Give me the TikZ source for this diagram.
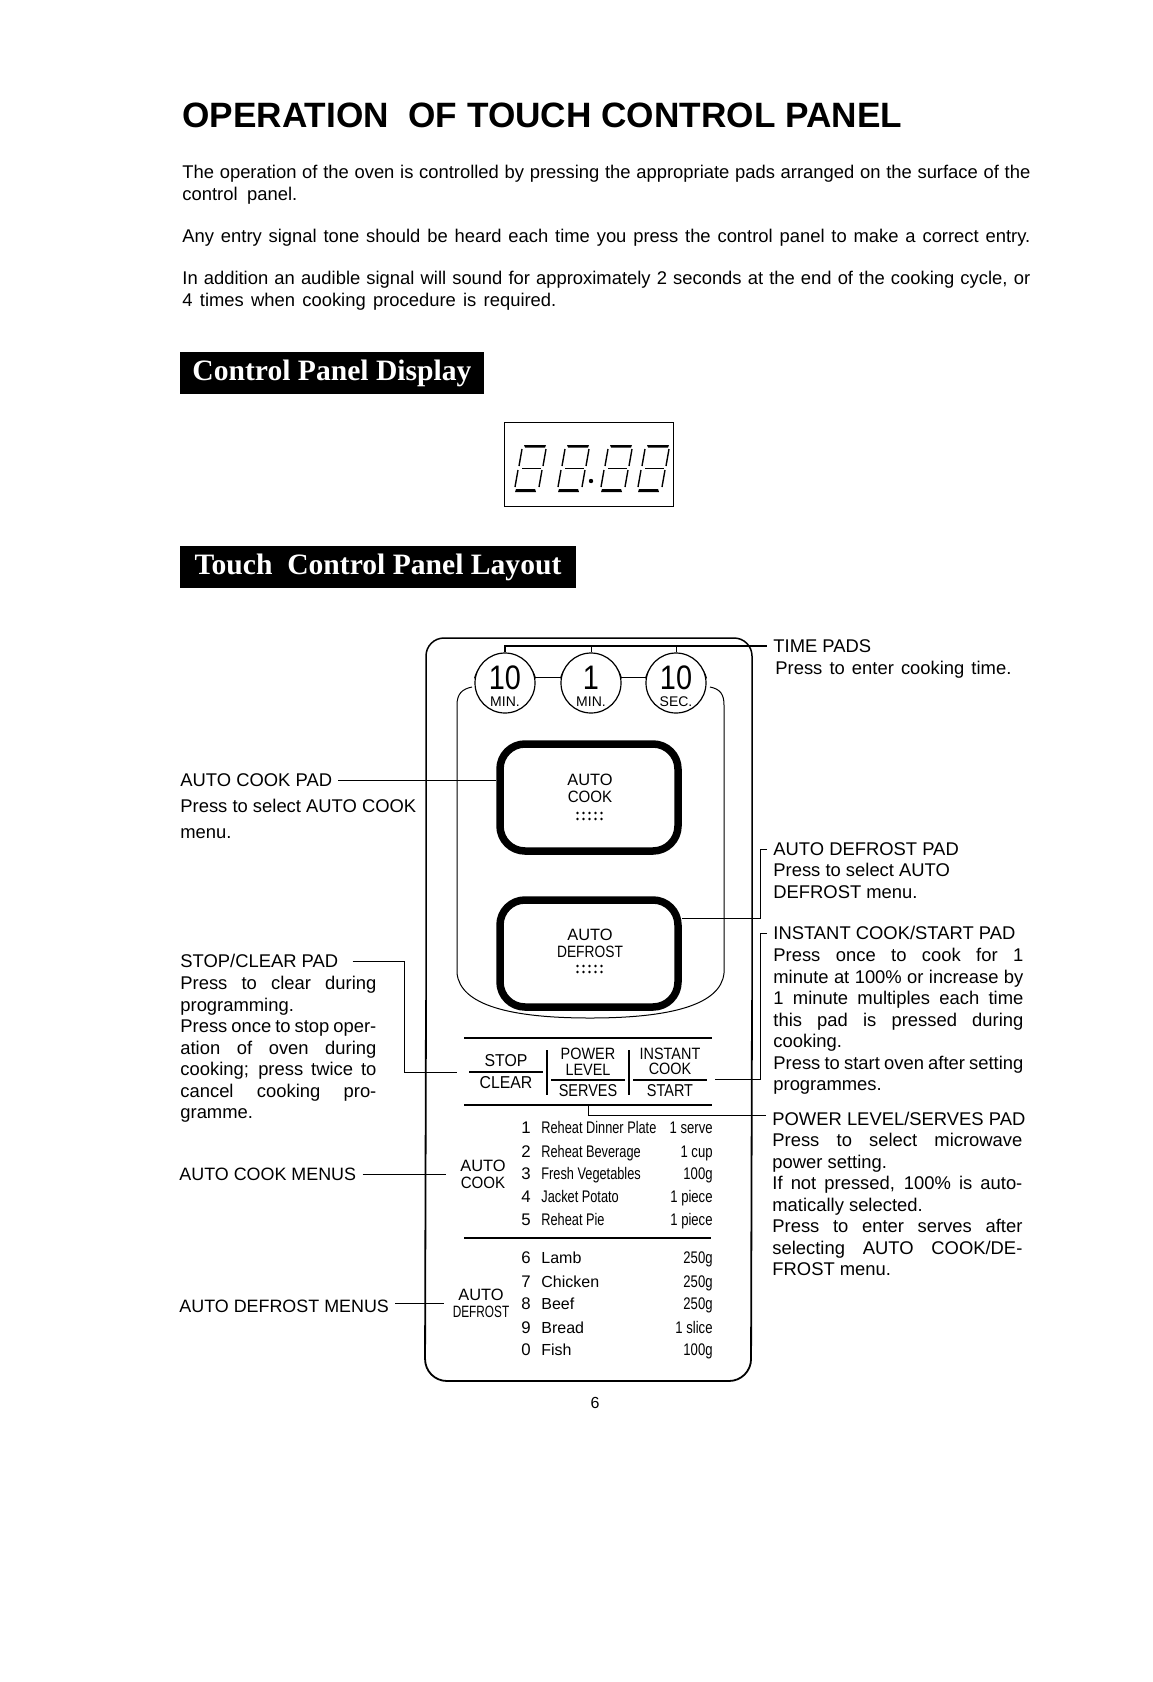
\documentclass[tikz,border=0pt]{standalone}
\usepackage{fontspec}
\setmainfont{Liberation Sans}
\newfontfamily\barfont{Liberation Serif}
\newcommand{\nw}[1]{\scalebox{.78}[1]{#1}}
\newcommand{\dw}[1]{\scalebox{.76}[1]{#1}}
\newcommand{\pw}[1]{\scalebox{.84}[1]{#1}}
\newcommand{\sw}[1]{\scalebox{.92}[1]{#1}}
\newcommand{\jl}[2]{\makebox[#1pt][s]{#2}}
\tikzset{
  para/.style={anchor=north west,inner sep=0pt,align=left,font=\fontsize{9.2}{10.75}\selectfont},
  headlbl/.style={inner xsep=3pt,inner ysep=0pt,font=\fontsize{9.2}{10.75}\selectfont},
  blackbar/.style={fill=black,text=white,inner sep=0pt,font=\barfont\bfseries\fontsize{14.8}{15}\selectfont},
  lead/.style={line width=.5pt},
  rule/.style={line width=1pt},
  roundpad/.style={draw,line width=3.75pt,rounded corners=12.5pt,minimum width=89pt,minimum height=53.5pt,inner sep=0pt},
  timepad/.style={circle,draw,fill=white,line width=.6pt,minimum size=30pt,inner sep=0pt},
  padtxt/.style={inner sep=0pt,align=center,font=\fontsize{8.2}{8.6}\selectfont},
  keytxt/.style={inner xsep=0pt,inner ysep=2.25pt,align=center,minimum width=36.5pt,font=\fontsize{8.2}{7.6}\selectfont},
  menutxt/.style={inner sep=0pt,font=\fontsize{8.4}{9}\selectfont},
}
\begin{document}
\begin{tikzpicture}[x=.5pt,y=-.5pt]
\useasboundingbox (0,0) rectangle (1152,1682);
\node[inner sep=0pt,anchor=base west,font=\bfseries\fontsize{17.6}{20}\selectfont] (title) at (182,127) {OPERATION\ \ OF TOUCH CONTROL PANEL};
\node[para] (intro) at (182,165) {\jl{424}{The operation of the oven is controlled by pressing the appropriate pads arranged on the surface of the}\\\jl{57.5}{control panel.}};
\node[para] (tone) at (182,229) {\jl{424}{Any entry signal tone should be heard each time you press the control panel to make a correct entry.}};
\node[para] (signal) at (182,271) {\jl{424}{In addition an audible signal will sound for approximately 2 seconds at the end of the cooking cycle, or}\\\jl{187}{4 times when cooking procedure is required.}};
\node[blackbar,minimum width=152pt,minimum height=21pt] (displaybar) at (332,373) {Control Panel Display};
\node[blackbar,minimum width=198pt,minimum height=21pt] (layoutbar) at (378,567) {Touch\ \ Control Panel Layout};
\node[draw,line width=.5pt,minimum width=84.5pt,minimum height=42pt,inner sep=0pt] (display) at (589,464) {};
\foreach \dx in {515,558,601,638}{
  \begin{scope}[shift={(\dx,445)}]
    \fill (9,0) -- (31,0) -- (30,2.5) -- (10,2.5) -- cycle;
    \fill (1,44) -- (20,44) -- (21,47) -- (0,47) -- cycle;
    \draw[line width=.5pt] (7,23) -- (26,23);
    \draw[line width=.7pt] (7,4) -- (4,21) (31,4) -- (28,21) (3,25) -- (0,42) (27,25) -- (24,42);
  \end{scope}
}
\fill (591,481) circle (2.2);
\draw[line width=.75pt,rounded corners=9pt] (426,1000) -- (426,638) -- (752,638) -- (752,1000);
\draw[line width=.9pt,rounded corners=11pt] (752,1000) -- (751,1381) -- (425,1381) -- (426,1000);
\draw[line width=.5pt] (472,687) .. controls (462,689) and (457,694) .. (457,705) -- (457,973)
  .. controls (460,1005) and (510,1018) .. (590,1018) .. controls (670,1018) and (721,1005) .. (724,973)
  -- (724,705) .. controls (724,694) and (720,689) .. (710,687);
\foreach \nm/\cx/\big/\unit in {tenmin/505/10/MIN.,onemin/591/1/MIN.,tensec/676/10/SEC.}{
  \fill[white] (\cx,686) circle (32);
  \draw[line width=.6pt] (\cx,686.5) ++(195:31.5) arc (195:345:31.5);
  \node[timepad] (\nm) at (\cx,683) {};
  \node[inner sep=0pt,font=\fontsize{17}{18}\selectfont] (\nm big) at (\cx,678) {\scalebox{.85}[1]{\big}};
  \node[inner sep=0pt,font=\fontsize{7}{8}\selectfont] (\nm unit) at (\cx,702) {\unit};
}
\draw[line width=.5pt] (tenmin.10) -- (onemin.170) (onemin.10) -- (tensec.170);
\node[roundpad] (autocook) at (589,797.5) {};
\node[roundpad] (autodef) at (589,953.5) {};
\node[padtxt] (cooktxt) at (590,788) {AUTO\\\sw{COOK}};
\node[padtxt] (deftxt) at (590,943) {AUTO\\\pw{DEFROST}};
\foreach \cy in {813,966}{
  \foreach \ci in {0,...,4}{
    \fill (577.5+6*\ci,\cy) circle (1.4) (577.5+6*\ci,\cy+6) circle (1.4);
  }
}
\node[headlbl,anchor=west] (timelbl) at (767,646) {TIME PADS};
\node[para] at (775,661) {\jl{118}{Press to enter cooking time.}};
\node[headlbl,anchor=west] (deflbl) at (767,849) {AUTO DEFROST PAD};
\node[para] at (773,863) {Press to select AUTO\\DEFROST menu.};
\node[headlbl,anchor=west] (instlbl) at (767,933) {INSTANT COOK/START PAD};
\node[para] at (773,948) {\jl{125}{Press once to cook for 1}\\\jl{125}{minute at 100\% or increase by}\\\jl{125}{1 minute multiples each time}\\\jl{125}{this pad is pressed during}\\cooking.\\\jl{125}{Press to start oven after setting}\\programmes.};
\node[headlbl,anchor=west] (powerlbl) at (766,1119) {POWER LEVEL/SERVES PAD};
\node[para] at (772,1133) {\jl{125}{Press to select microwave}\\power setting.\\\jl{125}{If not pressed, 100\% is auto-}\\matically selected.\\\jl{125}{Press to enter serves after}\\\jl{125}{selecting AUTO COOK/DE-}\\FROST menu.};
\node[headlbl,anchor=west] (cooklbl) at (174,780) {AUTO COOK PAD};
\node[para,font=\fontsize{9.2}{13}\selectfont] at (180,799) {Press to select AUTO COOK\\menu.};
\node[headlbl,anchor=west] (stoplbl) at (174,961) {STOP/CLEAR PAD};
\node[para] at (180,976) {\jl{98}{Press to clear during}\\programming.\\\jl{98}{Press once to stop oper-}\\\jl{98}{ation of oven during}\\\jl{98}{cooking; press twice to}\\\jl{98}{cancel cooking pro-}\\gramme.};
\node[headlbl,anchor=west,font=\fontsize{8.95}{10.75}\selectfont] (cookmenulbl) at (173,1174) {AUTO COOK MENUS};
\node[headlbl,anchor=west,font=\fontsize{8.95}{10.75}\selectfont] (defmenulbl) at (173,1306) {AUTO DEFROST MENUS};
\draw[rule] (464,1038) -- (712,1038);
\draw[line width=1.25pt] (464,1105) -- (712,1105);
\draw[rule] (464,1238) -- (711,1238);
\node[keytxt,anchor=south,font=\fontsize{8.6}{7}\selectfont] (stoppad) at (506,1072) {\sw{STOP}};
\node[keytxt,anchor=north,font=\fontsize{8.6}{7}\selectfont] (clearpad) at (506,1072) {\sw{CLEAR}};
\node[keytxt,anchor=south] (powerpad) at (588,1080) {\scalebox{.88}[1]{POWER}\\\scalebox{.88}[1]{LEVEL}};
\node[keytxt,anchor=north,font=\fontsize{8.6}{7}\selectfont] (servespad) at (588,1080) {\pw{SERVES}};
\node[keytxt,anchor=south] (instpad) at (670,1080) {\scalebox{.88}[1]{INSTANT}\\\scalebox{.88}[1]{COOK}};
\node[keytxt,anchor=north,font=\fontsize{8.6}{7}\selectfont] (startpad) at (670,1080) {\pw{START}};
\draw[line width=.8pt] (stoppad.south west) -- (stoppad.south east);
\draw[line width=.6pt] (powerpad.south west) -- (powerpad.south east);
\draw[line width=.6pt] (instpad.south west) -- (instpad.south east);
\draw[line width=1pt] (547,1050) -- (547,1095);
\draw[line width=1pt] (629,1050) -- (629,1095);
\foreach \y/\n/\dish/\qty in {1133/1/Reheat Dinner Plate/1 serve,1157/2/Reheat Beverage/1 cup,1179/3/Fresh Vegetables/100g,1202/4/Jacket Potato/1 piece,1225/5/Reheat Pie/1 piece}{
  \node[menutxt,anchor=base] (num\n) at (526,\y) {\n};
  \node[menutxt,anchor=base west] (dish\n) at (541,\y) {\dw{\dish}};
  \node[menutxt,anchor=base east] (qty\n) at (713,\y) {\nw{\qty}};
}
\foreach \y/\n/\dish/\qty in {1263/6/Lamb/250g,1287/7/Chicken/250g,1309/8/Beef/250g,1333/9/Bread/1 slice,1355/0/Fish/100g}{
  \node[menutxt,anchor=base] (num\n) at (526,\y) {\n};
  \node[menutxt,anchor=base west,font=\fontsize{8}{9}\selectfont] (dish\n) at (541,\y) {\dish};
  \node[menutxt,anchor=base east] (qty\n) at (713,\y) {\nw{\qty}};
}
\node[padtxt] (cookmenu) at (483,1174) {AUTO\\\sw{COOK}};
\node[padtxt] (defmenu) at (481,1303) {AUTO\\\scalebox{.72}[1]{DEFROST}};
\node[inner sep=0pt,font=\fontsize{8}{9}\selectfont] (pageno) at (595,1403) {6};
\coordinate (defbend) at (760,918);
\coordinate (instbend) at (760,1079);
\coordinate (instend) at (715,1079);
\coordinate (stopbend) at (404,1072);
\coordinate (servesfoot) at (588,1105);
\coordinate (powerbend) at (766,1115);
\draw[line width=.75pt] (tenmin.north) |- (timelbl.west);
\draw[lead] (onemin.north) -- (onemin.north |- timelbl.west);
\draw[lead] (tensec.north) -- (tensec.north |- timelbl.west);
\draw[lead] (cooklbl.east) -- (cooklbl.east -| autocook.west);
\draw[lead] (deflbl.west) -| (defbend) -- (autodef.east |- defbend);
\draw[lead] (instlbl.west) -| (instbend) -- (instend);
\draw[lead,shorten <=4pt,shorten >=6pt] (stoplbl.east) -| (stopbend) -- (stoppad.south west);
\draw[lead] (servesfoot) |- (powerbend);
\draw[lead,shorten >=7pt] (cookmenulbl.east) -- (cookmenu.west);
\draw[lead,shorten >=4pt] (defmenulbl.east |- defmenu.west) -- (defmenu.west);
\end{tikzpicture}
\end{document}
